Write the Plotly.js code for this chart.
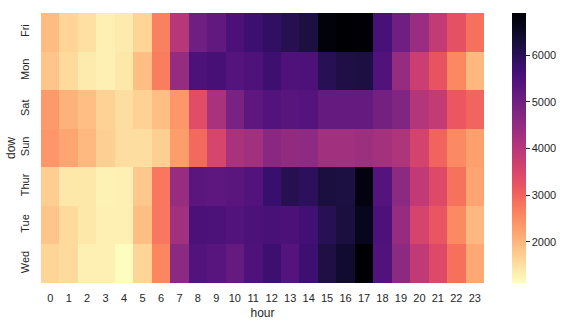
<!DOCTYPE html>
<html>
<head>
<meta charset="utf-8">
<script src="https://cdn.plot.ly/plotly-3.0.1.min.js"></script>
<style>html,body{margin:0;padding:0;background:#fff;}#chart{width:569px;height:325px;}</style>
</head>
<body>
<div id="chart"></div>
<script>
const hours = ["0","1","2","3","4","5","6","7","8","9","10","11","12","13","14","15","16","17","18","19","20","21","22","23"];
const days = ["Fri","Mon","Sat","Sun","Thur","Tue","Wed"];

const fri  = [1930,1640,1496,1290,1350,1640,2650,4010,5020,5224,5540,5715,5860,6030,6206,6820,6900,6880,5570,5020,4415,3837,3287,2854];
const mon  = [1814,1554,1351,1290,1410,1900,2680,4470,5510,5600,5400,5480,5715,5480,5510,6004,6177,6206,5455,4470,3720,3230,2565,1990];
const sat  = [2334,2045,1900,1670,1525,1670,1900,2390,3374,4212,4877,5280,5426,5340,5400,5166,5166,5166,4964,4760,4068,3837,3172,2998];
const sun  = [2390,2190,1960,1700,1525,1525,1700,2305,2940,3548,4212,4300,4646,4500,4560,4300,4300,4360,4270,4125,3600,3000,2536,2276];
const thur = [1727,1410,1410,1265,1290,1785,2767,4443,5310,5280,5310,5426,5773,6030,5946,6235,6206,6785,5400,4588,3866,3432,2825,2218];
const tue  = [1814,1554,1410,1290,1290,1900,2767,4300,5540,5510,5426,5510,5570,5540,5657,6004,6235,6611,5510,4470,3576,3200,2536,1987];
const wed  = [1640,1554,1290,1290,1120,1640,2594,4588,5426,5340,5166,5484,5715,5400,5715,6177,6409,6900,5455,4588,3866,3432,2854,2160];

const cbTicks = [2000,3000,4000,5000,6000];

const magmaR = [
  [0.00,'#fcfdbf'],[0.05,'#fde7a9'],[0.10,'#fecf92'],[0.15,'#feb77e'],[0.20,'#fe9f6d'],
  [0.25,'#fb8861'],[0.30,'#f7705c'],[0.35,'#ec5860'],[0.40,'#de4968'],[0.45,'#cb3e71'],
  [0.50,'#b73779'],[0.55,'#a1307e'],[0.60,'#8c2981'],[0.65,'#792282'],[0.70,'#651a80'],
  [0.75,'#51127c'],[0.80,'#3b0f70'],[0.85,'#261052'],[0.90,'#150e37'],[0.95,'#07061c'],
  [1.00,'#000004']
];

const z = [fri, mon, sat, sun, thur, tue, wed];

const trace = {
  type: 'heatmap',
  x: hours,
  y: days,
  z: z,
  zmin: 1120,
  zmax: 6900,
  colorscale: magmaR,
  colorbar: {
    thickness: 14,
    thicknessmode: 'pixels',
    len: 1,
    lenmode: 'fraction',
    x: 1.0628,
    xanchor: 'left',
    y: 0.5,
    yanchor: 'middle',
    xpad: 0,
    ypad: 0,
    outlinewidth: 0,
    ticks: 'outside',
    ticklen: 4,
    tickwidth: 1,
    tickcolor: '#262626',
    ticklabelstandoff: 5,
    tickvals: cbTicks,
    ticktext: cbTicks.map(String),
    tickfont: {family: 'Liberation Sans, Arial, sans-serif', size: 11, color: '#262626'}
  }
};

const layout = {
  width: 569,
  height: 325,
  margin: {l: 41, r: 82, t: 13, b: 42},
  paper_bgcolor: '#fff',
  plot_bgcolor: '#fff',
  font: {family: 'Liberation Sans, Arial, sans-serif', size: 11, color: '#262626'},
  xaxis: {
    type: 'category',
    title: {text: 'hour', font: {size: 12, color: '#262626'}, standoff: 5},
    ticks: '',
    ticklabelstandoff: 7,
    showgrid: false,
    zeroline: false,
    showline: false,
    tickfont: {size: 11, color: '#262626'},
    tickangle: 0
  },
  yaxis: {
    type: 'category',
    autorange: 'reversed',
    title: {text: 'dow', font: {size: 12, color: '#262626'}, standoff: 0},
    ticks: '',
    ticklabelstandoff: 9,
    showgrid: false,
    zeroline: false,
    showline: false,
    tickangle: -90,
    tickfont: {size: 11, color: '#262626'}
  }
};

Plotly.newPlot('chart', [trace], layout, {displayModeBar: false, staticPlot: true});
</script>
</body>
</html>
